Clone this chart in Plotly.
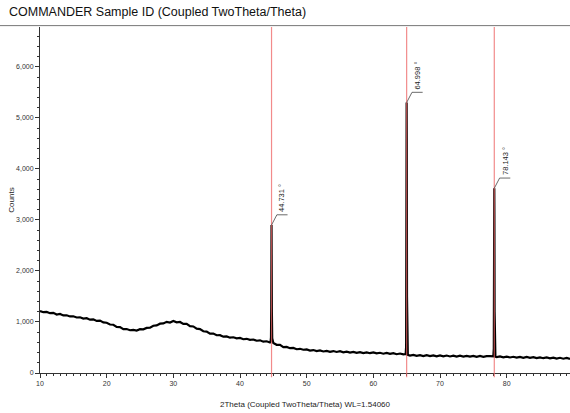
import plotly.graph_objects as go
import pandas as pd

scan_start = 10.0
scan_step = 0.5
counts = [
    1215, 1192, 1196, 1172, 1178, 1146, 1158, 1128, 1130, 1108,
    1112, 1088, 1092, 1066, 1074, 1045, 1052, 1020, 1026, 992,
    984, 950, 945, 905, 898, 858, 862, 838, 846, 832,
    858, 856, 884, 888, 926, 932, 966, 972, 1002, 988,
    1018, 992, 1000, 962, 962, 918, 912, 868, 860, 818,
    812, 770, 772, 740, 742, 712, 718, 692, 700, 680,
    686, 662, 670, 650, 656, 632, 640, 614, 622, 598,
    586, 552, 550, 508, 512, 486, 492, 466, 474, 456,
    462, 440, 450, 430, 442, 422, 434, 416, 430, 412,
    426, 406, 418, 400, 414, 396, 410, 392, 404, 388,
    402, 384, 396, 378, 392, 374, 388, 368, 382, 366,
    360, 342, 354, 336, 350, 332, 348, 330, 346, 328,
    344, 326, 342, 324, 340, 322, 338, 322, 336, 320,
    336, 318, 334, 318, 332, 330, 328, 312, 326, 308,
    322, 304, 318, 302, 316, 298, 314, 296, 310, 292,
    306, 290, 304, 286, 300, 284, 298, 280, 294, 278,
]

# reflections (fine points around each peak)
peak1_x = [44.58, 44.65, 44.69, 44.72, 44.731, 44.75, 44.78, 44.83, 44.90]
peak1_y = [610, 700, 1300, 2600, 2900, 2500, 1200, 680, 590]
peak2_x = [64.85, 64.92, 64.96, 64.99, 64.998, 65.02, 65.05, 65.10, 65.17]
peak2_y = [372, 520, 1700, 4900, 5300, 4600, 1500, 480, 355]
peak3_x = [78.00, 78.07, 78.11, 78.135, 78.143, 78.16, 78.19, 78.24, 78.31]
peak3_y = [330, 480, 1400, 3300, 3620, 3100, 1200, 440, 320]

peak_positions = [44.731, 64.998, 78.143]
peak_tops = [2900, 5300, 3620]
peak_labels = ["44.731 °", "64.998 °", "78.143 °"]

# build the pattern
base = pd.DataFrame({"two_theta": [scan_start + i * scan_step for i in range(len(counts))],
                     "counts": counts})
peaks = [(peak1_x, peak1_y), (peak2_x, peak2_y), (peak3_x, peak3_y)]
for px, py in peaks:
    base = base[~((base.two_theta > min(px)) & (base.two_theta < max(px)))]
data = pd.concat([base] + [pd.DataFrame({"two_theta": px, "counts": py}) for px, py in peaks])
data = data.sort_values("two_theta")

fig = go.Figure()

fig.add_trace(go.Scatter(
    x=data.two_theta, y=data.counts,
    mode="lines",
    line=dict(color="black", width=2.2),
    showlegend=False
))

# reference lines at the identified peaks
for pos in peak_positions:
    fig.add_shape(type="line", xref="x", yref="paper", x0=pos, x1=pos, y0=-0.012, y1=1,
                  line=dict(color="rgba(238,100,100,0.75)", width=1.2))

# peak labels with leader lines
for pos, top, label in zip(peak_positions, peak_tops, peak_labels):
    kx = pos + 0.8
    ky = top + 200
    fig.add_shape(type="line", x0=pos, y0=top, x1=kx, y1=ky, line=dict(color="#444", width=0.8))
    fig.add_shape(type="line", x0=kx, y0=ky, x1=kx + 1.6, y1=ky, line=dict(color="#444", width=0.8))
    fig.add_annotation(x=kx + 0.8, y=ky + 20, text=label, textangle=-90, showarrow=False,
                       xanchor="center", yanchor="bottom",
                       font=dict(size=7.5, color="#222"))

# title rule
fig.add_shape(type="line", xref="paper", yref="paper", x0=-0.08, x1=1, y0=1.004, y1=1.004,
              line=dict(color="#777", width=1))

fig.add_annotation(xref="paper", yref="paper", x=-0.062, y=1.043, xanchor="left", yanchor="middle",
                   text="COMMANDER Sample ID (Coupled TwoTheta/Theta)", showarrow=False,
                   font=dict(size=12.5, color="#111"))

tick_font = dict(size=7, color="#333", family="Liberation Sans")

fig.update_layout(
    width=570, height=413,
    margin=dict(l=40, r=0, t=27, b=40),
    paper_bgcolor="white", plot_bgcolor="white",
    font=dict(family="Liberation Sans"),
    xaxis=dict(
        range=[10, 89.5], showgrid=False, zeroline=False,
        showline=True, linecolor="#333", linewidth=1,
        ticks="outside", ticklen=4, tickcolor="#333", dtick=10, tick0=10,
        minor=dict(dtick=1, ticks="outside", ticklen=2, tickcolor="#333"),
        tickfont=tick_font,
        title=dict(text="2Theta (Coupled TwoTheta/Theta) WL=1.54060", font=dict(size=8, color="#222"),
                   standoff=14),
    ),
    yaxis=dict(
        range=[0, 6780], showgrid=False, zeroline=False,
        showline=True, linecolor="#333", linewidth=1,
        ticks="outside", ticklen=4, tickcolor="#333", dtick=1000, tickformat=",d",
        minor=dict(dtick=200, ticks="outside", ticklen=2, tickcolor="#333"),
        tickfont=tick_font,
        title=dict(text="Counts", font=dict(size=8, color="#222"), standoff=0),
    ),
)

# page body has a default margin; drop it so the figure fills the window
fig.write_html("out.html", config={"displayModeBar": False},
               post_script="document.body.style.margin='0px';")
